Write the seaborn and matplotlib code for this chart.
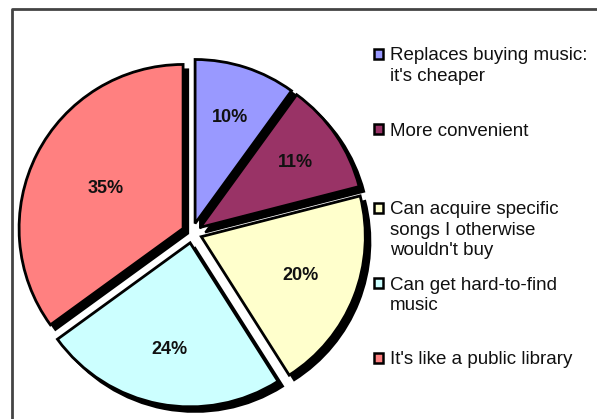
import numpy as np
import matplotlib
matplotlib.use("Agg")
import matplotlib.pyplot as plt
import seaborn as sns

sns.set_theme(style="white")
plt.rcParams['font.family'] = ['Liberation Sans', 'DejaVu Sans']

# Survey answers and their shares (percent)
reasons = [
    "Replaces buying music:\nit's cheaper",
    "More convenient",
    "Can acquire specific\nsongs I otherwise\nwouldn't buy",
    "Can get hard-to-find\nmusic",
    "It's like a public library",
]
shares = [10, 11, 20, 24, 35]
colors = ["#9999FF", "#993366", "#FFFFCC", "#CCFFFF", "#FF8080"]

# layout of the legend column and the percentage labels
legend_baseline = [61, 136, 215, 290, 365]   # px from top, first line of each entry
pct_dist = [0.68, 0.70, 0.65, 0.66, 0.53]    # label distance as fraction of radius

W, H = 597, 419
fig = plt.figure(figsize=(W / 100, H / 100), dpi=100)
ax = fig.add_axes([0, 0, 1, 1])

cx, cy, R, gap = 192, H - 233, 164, 10
explode = [gap] * len(shares)

# drop shadow
ax.pie(shares, startangle=90, counterclock=False, radius=R,
       center=(cx + 5, cy - 5), explode=explode, colors=["black"] * len(shares),
       wedgeprops=dict(linewidth=1.5, edgecolor="black"), frame=True)

# coloured wedges
wedges, _ = ax.pie(shares, startangle=90, counterclock=False, radius=R,
                   center=(cx, cy), explode=explode, colors=colors,
                   wedgeprops=dict(linewidth=2, edgecolor="black"), frame=True)

# percentage labels inside each wedge
for w, v, d in zip(wedges, shares, pct_dist):
    ang = np.deg2rad((w.theta1 + w.theta2) / 2)
    wx, wy = w.center
    ax.text(wx + d * R * np.cos(ang), wy + d * R * np.sin(ang), f"{v}%",
            ha="center", va="center", fontsize=13, fontweight="bold",
            color="#111111")

ax.set_xlim(0, W)
ax.set_ylim(0, H)
ax.set_aspect("equal")
ax.axis("off")

# legend entries
for label, col, yb in zip(reasons, colors, legend_baseline):
    ax.add_patch(plt.Rectangle((373.5, H - yb + 2), 9.5, 9.5, facecolor=col,
                               edgecolor="black", linewidth=1.8))
    ax.text(390, H - yb + 13.5, label, fontsize=13.5, va="top", ha="left",
            color="#111111", linespacing=1.25)

# outer frame
ax.plot([11.5, 11.5, W], [0, H - 9.5, H - 9.5], color="#444444", linewidth=2,
        solid_capstyle="butt")

fig.savefig("out.png", dpi=100)
